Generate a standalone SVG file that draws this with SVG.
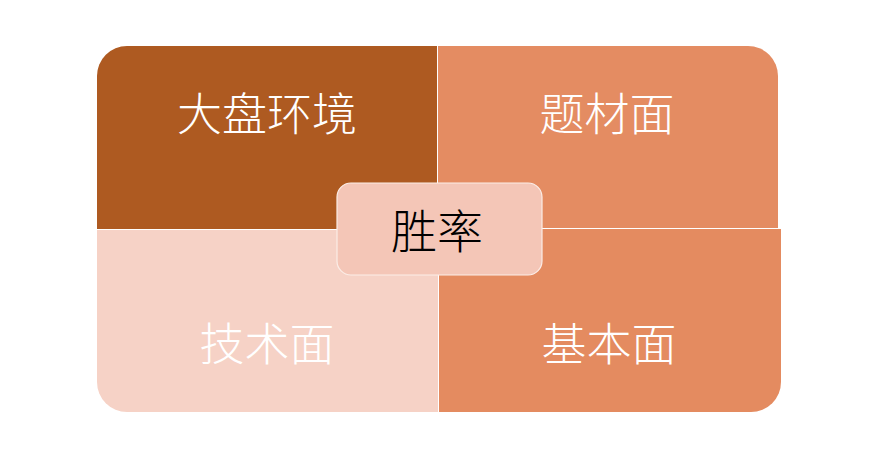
<svg xmlns="http://www.w3.org/2000/svg" width="871" height="459" viewBox="0 0 871 459">
<style>
.q{stroke:none}
.lbl{font-family:"Noto Sans CJK SC","Noto Sans",sans-serif;font-size:45px;font-weight:300;text-anchor:middle;dominant-baseline:central;fill:#ffffff}
.ctr{fill:#000000;font-size:46px}
</style>
<rect width="871" height="459" fill="#ffffff"/>
<g id="connectors"></g>
<g id="node-dapan">
<path class="q" d="M97,229 V76 A30,30 0 0 1 127,46 H437 V229 Z" fill="#AE5A21"/>
<text class="lbl" x="267" y="111">大盘环境</text>
</g>
<g id="node-ticai">
<path class="q" d="M438,46 H748 A30,30 0 0 1 778,76 V228 H438 Z" fill="#E48C62"/>
<text class="lbl" x="607" y="111">题材面</text>
</g>
<g id="node-jishu">
<path class="q" d="M97,230 H438 V412 H127 A30,30 0 0 1 97,382 Z" fill="#F6D2C6"/>
<text class="lbl" x="267" y="341">技术面</text>
</g>
<g id="node-jiben">
<path class="q" d="M439,229 H781 V382 A30,30 0 0 1 751,412 H439 Z" fill="#E48B60"/>
<text class="lbl" x="609" y="341">基本面</text>
</g>
<g id="node-shenglv">
<rect x="337" y="183" width="205" height="92" rx="14" fill="#F4C6B7" stroke="#FBEDE7" stroke-width="1.2"/>
<text class="lbl ctr" x="437" y="228">胜率</text>
</g>
</svg>
